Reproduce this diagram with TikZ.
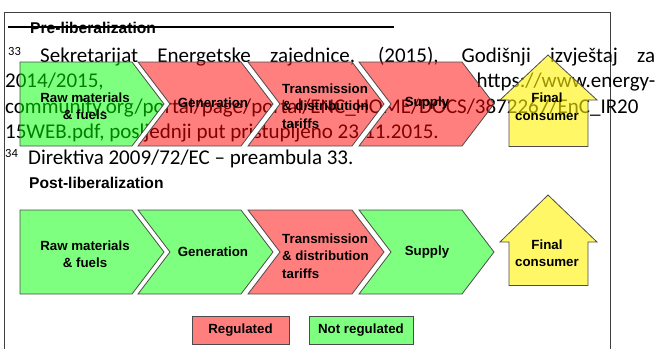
\documentclass[tikz,border=0pt]{standalone}
\usepackage{fontspec}
\newfontfamily\fnfont{Carlito}
\newfontfamily\arfont{Liberation Sans}
\begin{document}
\begin{tikzpicture}[x=1pt,y=-1pt,
  fn/.style={font=\fnfont\fontsize{21}{25.6}\selectfont, inner sep=0pt, anchor=base west},
  supx/.style={font=\fnfont\fontsize{12.5}{14}\selectfont, inner sep=0pt, anchor=base west},
  lbl/.style={font=\arfont\bfseries\fontsize{13.3}{17.5}\selectfont, inner sep=0pt, align=center},
  head/.style={font=\arfont\bfseries\fontsize{15.6}{18}\selectfont, inner sep=0pt, anchor=base west},
  chev/.style={draw=black!70, line width=0.8pt, line join=miter, fill opacity=0.5},
  gch/.style={chev, fill=green},
  rch/.style={chev, fill=red},
  ych/.style={chev, fill=yellow, fill opacity=0.6},
  gap/.style={fill=white},
]
\useasboundingbox (0,0) rectangle (657,349);
% frame
\draw[black!75, line width=0.8pt] (4,349) -- (4,12) -- (610,12) -- (610,349);

% headers
\node[head] (pre) at (30,33) {Pre-liberalization};
\draw[line width=2pt] (8,27) -- (394,27);
\node[head] (post) at (29,188) {Post-liberalization};

% footnote text (behind the upper diagram)
\node[supx] (s33) at (8,55.5) {33};
\node[fn] (l1) at (40,62) {\makebox[615pt][s]{Sekretarijat Energetske zajednice, (2015), Godišnji izvještaj za}};
\node[fn] (l2) at (5,87.6) {\makebox[650pt][s]{2014/2015, https://www.energy-}};
\node[fn] (l3) at (5,113.2) {community.org/portal/page/portal/ENC\_HOME/DOCS/3872267/EnC\_IR20};
\node[fn] (l4) at (5,138.8) {15WEB.pdf, posljednji put pristupljeno 23.11.2015.};
\node[supx] (s34) at (5,157.6) {34};
\node[fn] (l5) at (28,164.4) {Direktiva 2009/72/EC – preambula 33.};

% ---------- upper diagram ----------
\fill[gap] (132,62) -- (164,104) -- (132,146) -- (138,146) -- (170,104) -- (138,62) -- cycle;
\fill[gap] (241,62) -- (273,104) -- (241,146) -- (248,146) -- (280,104) -- (248,62) -- cycle;
\fill[gap] (352,62) -- (384,104) -- (352,146) -- (359,146) -- (391,104) -- (359,62) -- cycle;
\path[gch] (20,62) -- (132,62) -- (164,104) -- (132,146) -- (20,146) -- cycle;
\path[rch] (138,62) -- (241,62) -- (273,104) -- (241,146) -- (138,146) -- (170,104) -- cycle;
\path[rch] (248,62) -- (352,62) -- (384,104) -- (352,146) -- (248,146) -- (280,104) -- cycle;
\path[rch] (359,62) -- (462,62) -- (494,104) -- (462,146) -- (359,146) -- (391,104) -- cycle;
\path[ych] (548,55) -- (597,100) -- (588,100) -- (588,146.5) -- (509,146.5) -- (509,100) -- (500,100) -- cycle;
\node[lbl] (raw1) at (85,106) {Raw materials\\\& fuels};
\node[lbl] (gen1) at (213,103) {Generation};
\node[lbl, align=left, anchor=west] (tr1) at (282,106) {Transmission\\\& distribution\\tariffs};
\node[lbl] (sup1) at (427,103) {Supply};
\node[lbl] (fc1) at (547,106.5) {Final\\consumer};

% ---------- lower diagram ----------
\path[gch] (20,210) -- (132,210) -- (164,252) -- (132,294) -- (20,294) -- cycle;
\path[gch] (138,210) -- (241,210) -- (273,252) -- (241,294) -- (138,294) -- (170,252) -- cycle;
\path[rch] (248,210) -- (352,210) -- (384,252) -- (352,294) -- (248,294) -- (280,252) -- cycle;
\path[gch] (359,210) -- (462,210) -- (494,252) -- (462,294) -- (359,294) -- (391,252) -- cycle;
\path[ych] (548,195) -- (597,242) -- (588,242) -- (588,285.5) -- (509,285.5) -- (509,242) -- (500,242) -- cycle;
\node[lbl] (raw2) at (85,254) {Raw materials\\\& fuels};
\node[lbl] (gen2) at (213,252) {Generation};
\node[lbl, align=left, anchor=west] (tr2) at (282,256) {Transmission\\\& distribution\\tariffs};
\node[lbl] (sup2) at (427,252) {Supply};
\node[lbl] (fc2) at (547,253) {Final\\consumer};

% legend
\path[rch] (192,316) rectangle (289,344);
\node[lbl] (reg) at (240.5,330) {Regulated};
\path[gch] (309,316) rectangle (413,344);
\node[lbl] (nreg) at (361,330) {Not regulated};
\end{tikzpicture}
\end{document}
